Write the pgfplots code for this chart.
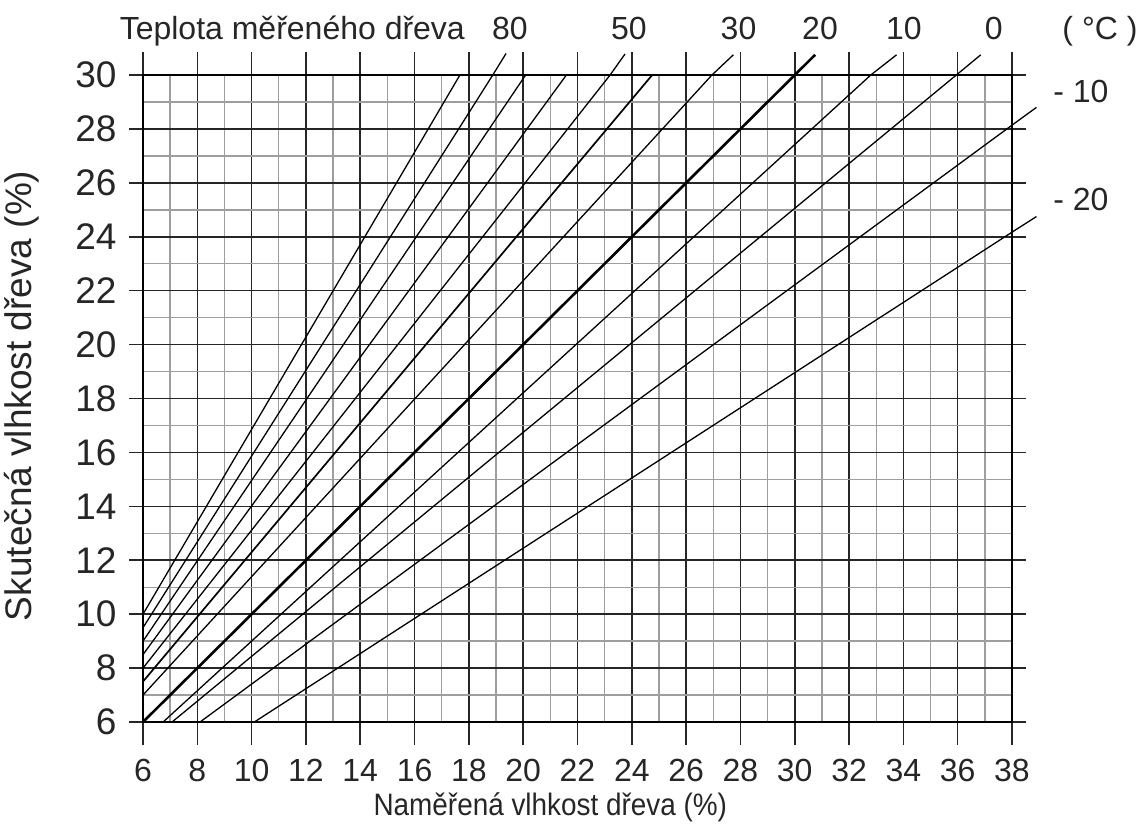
\documentclass[border=0pt]{standalone}
\usepackage{fontspec}
\setmainfont{Liberation Sans}
\newfontfamily\narrowfont[FakeStretch=0.9]{Liberation Sans}
\usepackage{pgfplots}
\pgfplotsset{compat=1.18}
\pgfplotsset{curve/.style={black, line width=1.3bp, mark=none}}
\begin{document}
\begin{tikzpicture}
\begin{axis}[
    ,x=27.156bp, y=26.958bp
    ,xmin=6, xmax=38, ymin=6, ymax=30
    ,clip=false
    ,axis line style={black, line width=1.6bp}
    ,xtick={6,8,...,38}, ytick={6,8,...,30}
    ,minor xtick={7,9,...,37}, minor ytick={7,9,...,29}
    ,grid=both
    ,major grid style={black!85, line width=1.6bp}
    ,minor grid style={black!38, line width=1.4bp}
    ,tick align=outside
    ,major tick length=23bp, minor tick length=0pt
    ,every tick/.style={black!85, line width=1.6bp}
    ,xtick style={/pgfplots/major tick length=23bp}
    ,ytick style={/pgfplots/major tick length=14bp}
    ,/pgf/number format/assume math mode=true
    ,xticklabel style={font=\fontsize{32bp}{38bp}\selectfont, text=black!85, yshift=-11bp}
    ,yticklabel style={font=\fontsize{37bp}{42bp}\selectfont, text=black!85}
    ,xlabel={Naměřená vlhkost dřeva (\%)}
    ,ylabel={Skutečná vlhkost dřeva (\%)}
    ,every axis x label/.style={at={(axis cs:21,2.55)}, anchor=base, font=\narrowfont\fontsize{31bp}{36bp}\selectfont, text=black!85}
    ,every axis y label/.style={at={(axis cs:1.55,18.1)}, anchor=center, rotate=90, font=\fontsize{37bp}{42bp}\selectfont, text=black!85}
    ]
% temperature lines, from 90 down to -20 degC
\addplot[curve] coordinates {(6,10) (17.67,30)};
\addplot[curve] coordinates {(6,9.5) (18.88,30) (19.37,30.8)};
\addplot[curve] coordinates {(6,9) (20.09,30)};
\addplot[curve] coordinates {(6,8.5) (21.59,30)};
\addplot[curve] coordinates {(6,8) (23.2,30) (23.75,30.78)};
\addplot[curve, line width=1.7bp] coordinates {(6,7.5) (24.75,30)};
\addplot[curve] coordinates {(6,7) (26.95,30) (27.74,30.75)};
\addplot[curve, line width=2.6bp] coordinates {(6,6) (30,30) (30.75,30.75)};
\addplot[curve] coordinates {(6.74,6) (32.8,30) (33.75,30.75)};
\addplot[curve] coordinates {(7.07,6) (35.95,30) (36.85,30.75)};
\addplot[curve] coordinates {(8.1,6) (38,28.14) (38.9,28.8)};
\addplot[curve] coordinates {(10.1,6) (38,24.17) (38.9,24.75)};

\begin{scope}[every node/.style={font=\fontsize{32bp}{38bp}\selectfont, text=black!85, anchor=base, inner sep=0pt}]
\node[anchor=base east] at (axis cs:17.86,31.3) {Teplota měřeného dřeva};
\node at (axis cs:19.51,31.3) {80};
\node at (axis cs:23.89,31.3) {50};
\node at (axis cs:27.93,31.3) {30};
\node at (axis cs:30.93,31.3) {20};
\node at (axis cs:34.02,31.3) {10};
\node at (axis cs:37.33,31.3) {0};
\node at (axis cs:41.24,31.3) {( °C )};
\node[anchor=center] at (axis cs:40.54,29.4) {- 10};
\node[anchor=center] at (axis cs:40.54,25.4) {- 20};
\end{scope}
\coordinate (bbl) at (axis cs:0.734,2.105);
\coordinate (btr) at (axis cs:42.824,32.783);
\end{axis}
\pgfresetboundingbox
\useasboundingbox (bbl) rectangle (btr);
\end{tikzpicture}
\end{document}
